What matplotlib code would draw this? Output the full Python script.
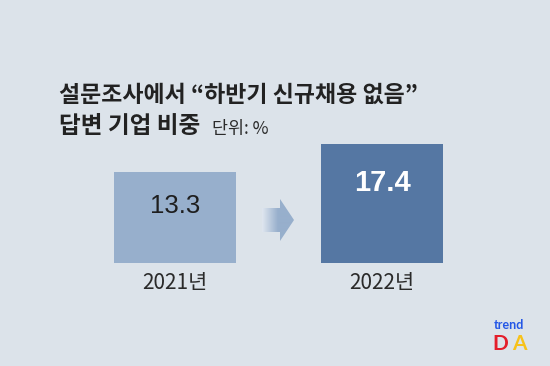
import numpy as np
import matplotlib
matplotlib.use('Agg')
import matplotlib.pyplot as plt
from matplotlib.patches import Polygon
from matplotlib.colors import LinearSegmentedColormap

plt.rcParams['font.family'] = ['Noto Sans CJK KR', 'DejaVu Sans']

# data
years = ['2021년', '2022년']
values = [13.3, 17.4]
bar_colors = ['#97afcc', '#5577a3']
value_colors = ['#1e1e1e', '#ffffff']
value_weights = ['normal', 'bold']
value_sizes = [18.5, 21]

title1 = '설문조사에서 “하반기 신규채용 없음”'
title2 = '답변 기업 비중'
unit = '단위: %'

BG = '#dce3ea'
W, H = 550, 366

fig = plt.figure(figsize=(5.5, 3.66), dpi=100, facecolor=BG)

# bars: baseline at 263 px from top, ~6.84 px per unit, spacing 207 px
ax = fig.add_axes([0, 0, 1, 1])
ax.set_facecolor(BG)
x = np.arange(len(values))
ax.bar(x, values, width=0.59, color=bar_colors, zorder=2)
ax.set_xlim(-175 / 207, (W - 175) / 207)
px = 6.84
ax.set_ylim(-(H - 263) / px, 263 / px)
ax.axis('off')

for i, v in enumerate(values):
    yv = v - 34 / px if i == 0 else v - 39 / px
    ax.text(i, yv, f'{v}', ha='center', va='center', fontsize=value_sizes[i],
            color=value_colors[i], fontweight=value_weights[i],
            family=['Liberation Sans', 'DejaVu Sans'])
    ax.text(i, -20 / px, years[i], ha='center', va='center', fontsize=15,
            color='#2a2a2a')

# pixel overlay for arrow, titles, logo
ov = fig.add_axes([0, 0, 1, 1])
ov.set_xlim(0, W)
ov.set_ylim(H, 0)
ov.axis('off')
ov.patch.set_alpha(0)

arrow = Polygon([[262, 208], [280, 208], [280, 199], [294, 220],
                 [280, 241], [280, 232], [262, 232]], closed=True,
                facecolor='none', edgecolor='none')
ov.add_patch(arrow)
cmap = LinearSegmentedColormap.from_list('arr', ['#dfe6ef', '#97afcc', '#97afcc'])
grad = np.linspace(0, 1, 64).reshape(1, -1)
im = ov.imshow(grad, extent=[262, 294, 241, 199], cmap=cmap, aspect='auto',
               zorder=3)
im.set_clip_path(arrow)
ov.set_xlim(0, W)
ov.set_ylim(H, 0)

ov.text(59, 95, title1, ha='left', va='center', fontsize=16.5,
        fontweight='bold', color='#222222')
ov.text(59, 126, title2, ha='left', va='center', fontsize=17,
        fontweight='bold', color='#222222')
ov.text(212, 129, unit, ha='left', va='center', fontsize=12.5,
        color='#2a2a2a')

ov.text(509, 325, 'trend', ha='center', va='center', fontsize=9,
        fontweight='bold', color='#2457e6', family=['Lato', 'DejaVu Sans'])
ov.text(500, 344, 'D', ha='center', va='center', fontsize=15,
        fontweight='bold', color='#e41e2b', family=['Lato', 'DejaVu Sans'])
ov.text(519, 344, 'A', ha='center', va='center', fontsize=15,
        fontweight='bold', color='#f7c21a', family=['Lato', 'DejaVu Sans'])

fig.savefig('out.png', dpi=100, facecolor=BG)
